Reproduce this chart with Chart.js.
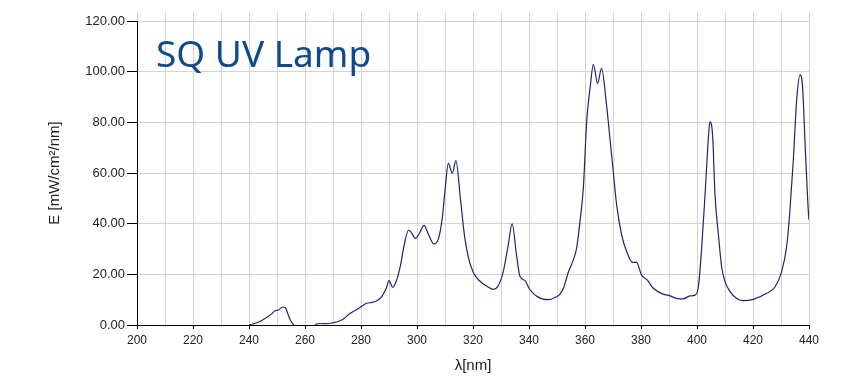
<!DOCTYPE html>
<html>
<head>
<meta charset="utf-8">
<script src="https://cdn.jsdelivr.net/npm/chart.js@4"></script>
<style>
  body { margin: 0; background: #fff; }
  #wrap { width: 860px; height: 392px; position: relative; }
</style>
</head>
<body>
<div id="wrap"><canvas id="chart"></canvas></div>
<script>
// wavelength [nm] and irradiance E [mW/cm²/nm]
const wavelengths = [
  240, 242, 244, 246, 248, 249.3, 250.5, 252, 253, 254, 255, 256, 257, 263,
  264, 266, 268, 270, 272, 274, 276, 278, 280, 282, 284, 286, 287.4, 289, 290,
  291.3, 292.5, 294, 295.5, 297, 298, 299.5, 301, 302.5, 304, 306, 307.5, 309,
  310, 311.2, 312.6, 313.9, 315.5, 317, 318.5, 320, 321.5, 323, 325, 327.3,
  329, 330.8, 332.5, 334, 335.5, 336.8, 338.6, 340, 341.5, 343, 345, 347,
  349.3, 351, 352.3, 354.1, 355.6, 357, 358.2, 359.4, 360.6, 361.8, 363,
  364.5, 365.9, 367.7, 368.9, 370.1, 371.3, 373.1, 374.9, 377, 378.4, 380.2,
  382.2, 384.4, 387.9, 390.4, 393, 395, 397.5, 399.3, 400.5, 401.7, 402.9,
  404.1, 404.6, 405.6, 406.4, 407.6, 408.8, 410, 411.8, 414.2, 416.5, 420.1,
  424.9, 427.9, 430.2, 432, 433.2, 434.4, 435.6, 436.8, 437.7, 438.6, 439.8, 440
];
const irradiance = [
  0, 0.6, 1.5, 2.8, 4.3, 5.6, 5.9, 7.1, 6.8, 4.0, 1.5, 0, -1, -1,
  0.4, 0.6, 0.5, 0.9, 1.5, 2.6, 4.5, 5.8, 7.2, 8.6, 8.9, 9.8, 11.2, 14.5, 17.5,
  14.9, 17, 23, 32, 37.5, 36.5, 34.2, 36.5, 39.3, 36, 32, 33.5, 42,
  53, 63.8, 59.9, 64.9, 50, 35, 26, 21, 18.4, 16.8, 15.3, 14.1,
  15.5, 21, 31, 39.9, 28, 19.1, 17.5, 14.5, 12.5, 11.2, 10.2, 10,
  10.9, 12.1, 14.5, 21, 25, 30.3, 40.8, 54, 80.3, 93.4, 102.9,
  95.4, 101.3, 86.8, 73.7, 60.5, 47.4, 35.5, 28.9, 24.7, 24.7, 19.7,
  17.8, 14.5, 12.2, 11.5, 10.4, 10.3, 11.5, 11.8, 15.1, 30.9, 52,
  74.4, 80.3, 74.4, 52, 36.2, 23, 17.1, 13.2, 10.5, 9.6, 10.1,
  12.5, 15.1, 21, 30.9, 45.4, 65.1, 88.8, 98.7, 94.1, 71.7, 44.1, 41.5
];
const chartTitle = "SQ UV Lamp";
const xAxisTitle = "λ[nm]";
const yAxisTitle = "E [mW/cm²/nm]";

const points = wavelengths.map((w, i) => ({ x: w, y: irradiance[i] }));

const gridColor = "#d3d3d3";

// big blue caption inside the plot area + grid stubs above the top edge
const captionPlugin = {
  id: "caption",
  beforeDatasetsDraw(chart) {
    const ctx = chart.ctx;
    const xs = chart.scales.x;
    const top = chart.chartArea.top;
    ctx.save();
    ctx.strokeStyle = gridColor;
    ctx.lineWidth = 1;
    xs.ticks.forEach(t => {
      const px = Math.round(xs.getPixelForValue(t.value)) + 0.5;
      ctx.beginPath();
      ctx.moveTo(px, top - 9);
      ctx.lineTo(px, top);
      ctx.stroke();
    });
    ctx.restore();
  },
  afterDraw(chart) {
    const ctx = chart.ctx;
    ctx.save();
    ctx.font = '37px "Noto Sans", "Open Sans", sans-serif';
    ctx.fillStyle = "#0b4a8c";
    ctx.textBaseline = "alphabetic";
    ctx.fillText(chartTitle, 156, 67);
    ctx.restore();
  }
};

const tickFont = { family: '"Liberation Sans", Arial, sans-serif', size: 12 };
const titleFont = { family: '"Liberation Sans", Arial, sans-serif', size: 15 };

new Chart(document.getElementById("chart"), {
  type: "line",
  data: {
    datasets: [{
      data: points,
      borderColor: "#222270",
      borderWidth: 1.2,
      pointRadius: 0,
      fill: false,
      cubicInterpolationMode: "monotone"
    }]
  },
  options: {
    responsive: true,
    maintainAspectRatio: false,
    animation: false,
    layout: { padding: { top: 21, right: 51, left: 0, bottom: 0 } },
    plugins: { legend: { display: false }, tooltip: { enabled: false } },
    scales: {
      x: {
        type: "linear",
        min: 200,
        max: 440,
        afterFit(scale) { scale.height = 67; },
        ticks: {
          stepSize: 10,
          autoSkip: false,
          maxRotation: 0,
          padding: 4,
          color: "#222",
          font: tickFont,
          callback: v => (v % 20 === 0 ? v : "")
        },
        grid: {
          color: gridColor,
          lineWidth: 1,
          tickLength: 4,
          tickColor: c => (c.tick && c.tick.value % 20 === 0 ? "#000" : "rgba(0,0,0,0)")
        },
        border: { color: "#000", width: 1 },
        title: {
          display: true,
          text: xAxisTitle,
          color: "#222",
          font: titleFont,
          padding: { top: 0, bottom: 17 }
        }
      },
      y: {
        min: 0,
        max: 120,
        afterFit(scale) { scale.width = 137; },
        ticks: {
          stepSize: 20,
          padding: 2,
          color: "#222",
          font: { family: tickFont.family, size: 13 },
          callback: v => v.toFixed(2)
        },
        grid: {
          color: gridColor,
          lineWidth: 1,
          tickLength: 10,
          tickColor: "#000"
        },
        border: { color: "#000", width: 1 },
        title: {
          display: true,
          text: yAxisTitle,
          color: "#222",
          font: titleFont,
          padding: { top: 46, bottom: 0 }
        }
      }
    }
  },
  plugins: [captionPlugin]
});
</script>
</body>
</html>
